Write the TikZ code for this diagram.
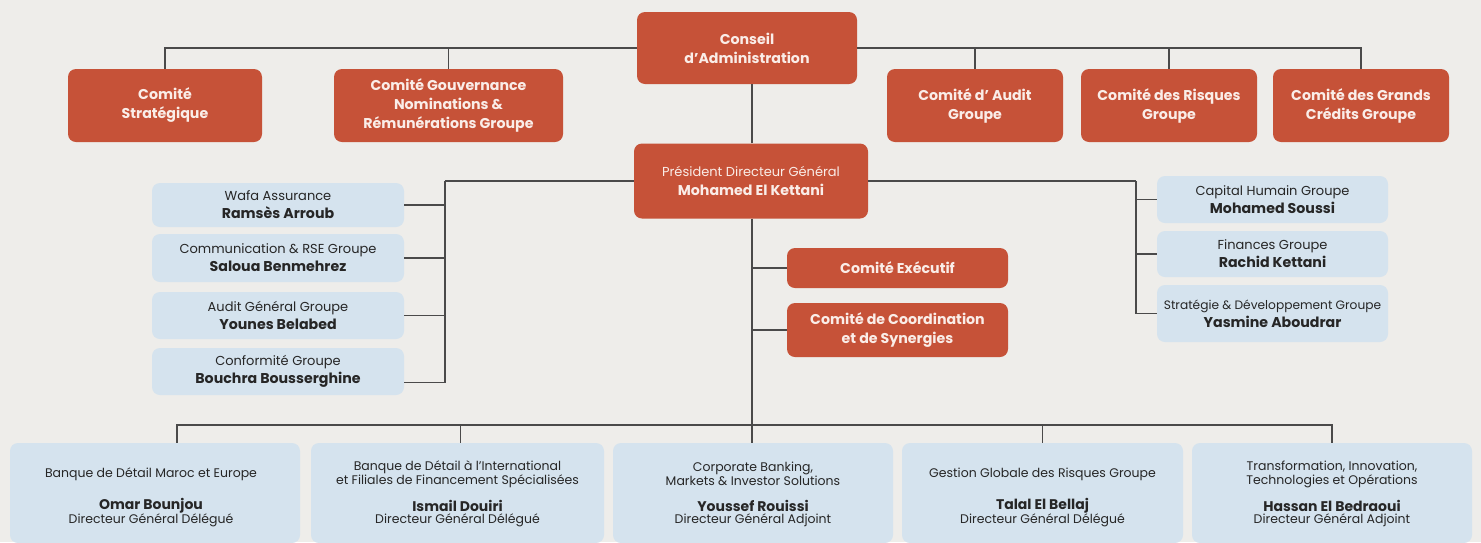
\documentclass[tikz,border=0pt]{standalone}
\usepackage{fontspec}
\setmainfont{Poppins}
\definecolor{paper}{HTML}{EEEDEA}
\definecolor{redbox}{HTML}{C65238}
\definecolor{bluebox}{HTML}{D5E3EE}
\definecolor{linecol}{HTML}{4A4A4A}
\definecolor{inkcol}{HTML}{262626}
\definecolor{whitetxt}{HTML}{FAEDE8}
\newcommand{\stname}[1]{{\fontsize{14.2}{18}\selectfont\bfseries #1}}
\tikzset{
  redb/.style={draw=none,fill=redbox,rounded corners=8pt,text=whitetxt,align=center,inner sep=0pt,font=\fontsize{14.2}{19}\selectfont\bfseries},
  blueb/.style={draw=none,fill=bluebox,rounded corners=8pt,text=inkcol,align=center,inner sep=0pt},
  staffb/.style={blueb,minimum width=252pt,font=\fontsize{13}{18}\selectfont},
  rstaffb/.style={blueb,minimum width=231pt,font=\fontsize{13}{18}\selectfont},
  botb/.style={blueb,minimum height=100pt},
  bottxt/.style={text=inkcol,align=center,inner sep=0pt,font=\fontsize{12.5}{14}\selectfont},
  botname/.style={text=inkcol,align=center,inner sep=0pt,font=\fontsize{14}{14}\selectfont\bfseries},
  conn/.style={draw=linecol,line width=1.1pt},
}
\begin{document}
\begin{tikzpicture}[x=1pt,y=-1pt]
\useasboundingbox (0,0) rectangle (1481,542);
\fill[paper] (0,0) rectangle (1481,542);
\clip (0,0) rectangle (1481,542);

% top row
\node[redb,minimum width=220pt,minimum height=72pt] (ca) at (747,48) {Conseil\\d’Administration};
\node[redb,minimum width=194pt,minimum height=73pt] (cs) at (165,105.5) {Comité\\Stratégique};
\node[redb,minimum width=229pt,minimum height=73pt] (cg) at (448.5,105.5) {Comité Gouvernance\\Nominations \&\\Rémunérations Groupe};
\node[redb,minimum width=176pt,minimum height=73pt] (cau) at (975,105.5) {Comité d’ Audit\\Groupe};
\node[redb,minimum width=176pt,minimum height=73pt] (cr) at (1169,105.5) {Comité des Risques\\Groupe};
\node[redb,minimum width=176pt,minimum height=73pt] (cgc) at (1361,105.5) {Comité des Grands\\Crédits Groupe};

% PDG
\node[redb,minimum width=234pt,minimum height=75pt] (pdg) at (751,181) {{\fontsize{13}{19}\selectfont\mdseries Président Directeur Général}\\Mohamed El Kettani};

% executive committees
\node[redb,minimum width=221pt,minimum height=40pt] (ce) at (897.5,268) {Comité Exécutif};
\node[redb,minimum width=221pt,minimum height=54pt] (cc) at (897.5,330) {Comité de Coordination\\et de Synergies};

% left staff
\node[staffb,minimum height=44pt] (s1) at (278,205) {Wafa Assurance\\\stname{Ramsès Arroub}};
\node[staffb,minimum height=48pt] (s2) at (278,258) {Communication \& RSE Groupe\\\stname{Saloua Benmehrez}};
\node[staffb,minimum height=47pt] (s3) at (278,315.5) {Audit Général Groupe\\\stname{Younes Belabed}};
\node[staffb,minimum height=47pt] (s4) at (278,371.5) {Conformité Groupe\\\stname{Bouchra Bousserghine}};

% right staff
\node[rstaffb,minimum height=47pt] (r1) at (1272.5,199.5) {Capital Humain Groupe\\\stname{Mohamed Soussi}};
\node[rstaffb,minimum height=46pt] (r2) at (1272.5,254) {Finances Groupe\\\stname{Rachid Kettani}};
\node[rstaffb,minimum height=57pt] (r3) at (1272.5,313.5) {{\fontsize{12.2}{18}\selectfont Stratégie \& Développement Groupe}\\\stname{Yasmine Aboudrar}};

% bottom row boxes
\node[botb,minimum width=290pt] (b1) at (155,493) {};
\node[botb,minimum width=293pt] (b2) at (457.5,493) {};
\node[botb,minimum width=280pt] (b3) at (753,493) {};
\node[botb,minimum width=281pt] (b4) at (1042.5,493) {};
\node[botb,minimum width=280pt] (b5) at (1332,493) {};

\node[bottxt] (b1h) at (151,474) {Banque de Détail Maroc et Europe};
\node[botname] (b1n) at (151,506) {Omar Bounjou};
\node[bottxt] (b1d) at (151,520) {Directeur Général Délégué};

\node[bottxt] (b2h) at (457.5,474) {Banque de Détail à l’International\\et Filiales de Financement Spécialisées};
\node[botname] (b2n) at (457.5,506) {Ismail Douiri};
\node[bottxt] (b2d) at (457.5,520) {Directeur Général Délégué};

\node[bottxt] (b3h) at (753,474) {Corporate Banking,\\Markets \& Investor Solutions};
\node[botname] (b3n) at (753,506) {Youssef Rouissi};
\node[bottxt] (b3d) at (753,520) {Directeur Général Adjoint};

\node[bottxt] (b4h) at (1042.5,474) {Gestion Globale des Risques Groupe};
\node[botname] (b4n) at (1042.5,506) {Talal El Bellaj};
\node[bottxt] (b4d) at (1042.5,520) {Directeur Général Délégué};

\node[bottxt] (b5h) at (1332,474) {Transformation, Innovation,\\Technologies et Opérations};
\node[botname] (b5n) at (1332,506) {Hassan El Bedraoui};
\node[bottxt] (b5d) at (1332,520) {Directeur Général Adjoint};

% connectors
\coordinate (lt) at (445,181);
\coordinate (rt) at (1136,181);
\coordinate (bh) at (752,425);

\draw[conn] (cs.north) |- (ca.west);
\draw[conn] (cg.north) |- (ca.west);
\draw[conn] (cau.north) |- (ca.east);
\draw[conn] (cr.north) |- (ca.east);
\draw[conn] (cgc.north) |- (ca.east);
\draw[conn] ([xshift=1]pdg.north) -- ([xshift=1]pdg.north |- ca.south);

\draw[conn] (pdg.west) -- (lt);
\draw[conn] (lt) |- ([yshift=-11]s4.east);
\draw[conn] (lt) |- (s1.east);
\draw[conn] (lt) |- (s2.east);
\draw[conn] (lt) |- (s3.east);

\draw[conn] (pdg.east) -- (rt);
\draw[conn] (rt) |- (r1.west);
\draw[conn] (rt) |- (r2.west);
\draw[conn] (rt) |- (r3.west);

\draw[conn] ([xshift=1]pdg.south) -- ([xshift=1]pdg.south |- b3.north);
\draw[conn] ([xshift=1]pdg.south |- ce.west) -- (ce.west);
\draw[conn] ([xshift=1]pdg.south |- cc.west) -- (cc.west);

\draw[conn] ([xshift=22]b1.north) |- (bh) -| (b5.north);
\draw[conn] ([xshift=3]b2.north) -- ([xshift=3]b2.north |- bh);
\draw[conn] (b4.north) -- (b4.north |- bh);
\end{tikzpicture}
\end{document}
